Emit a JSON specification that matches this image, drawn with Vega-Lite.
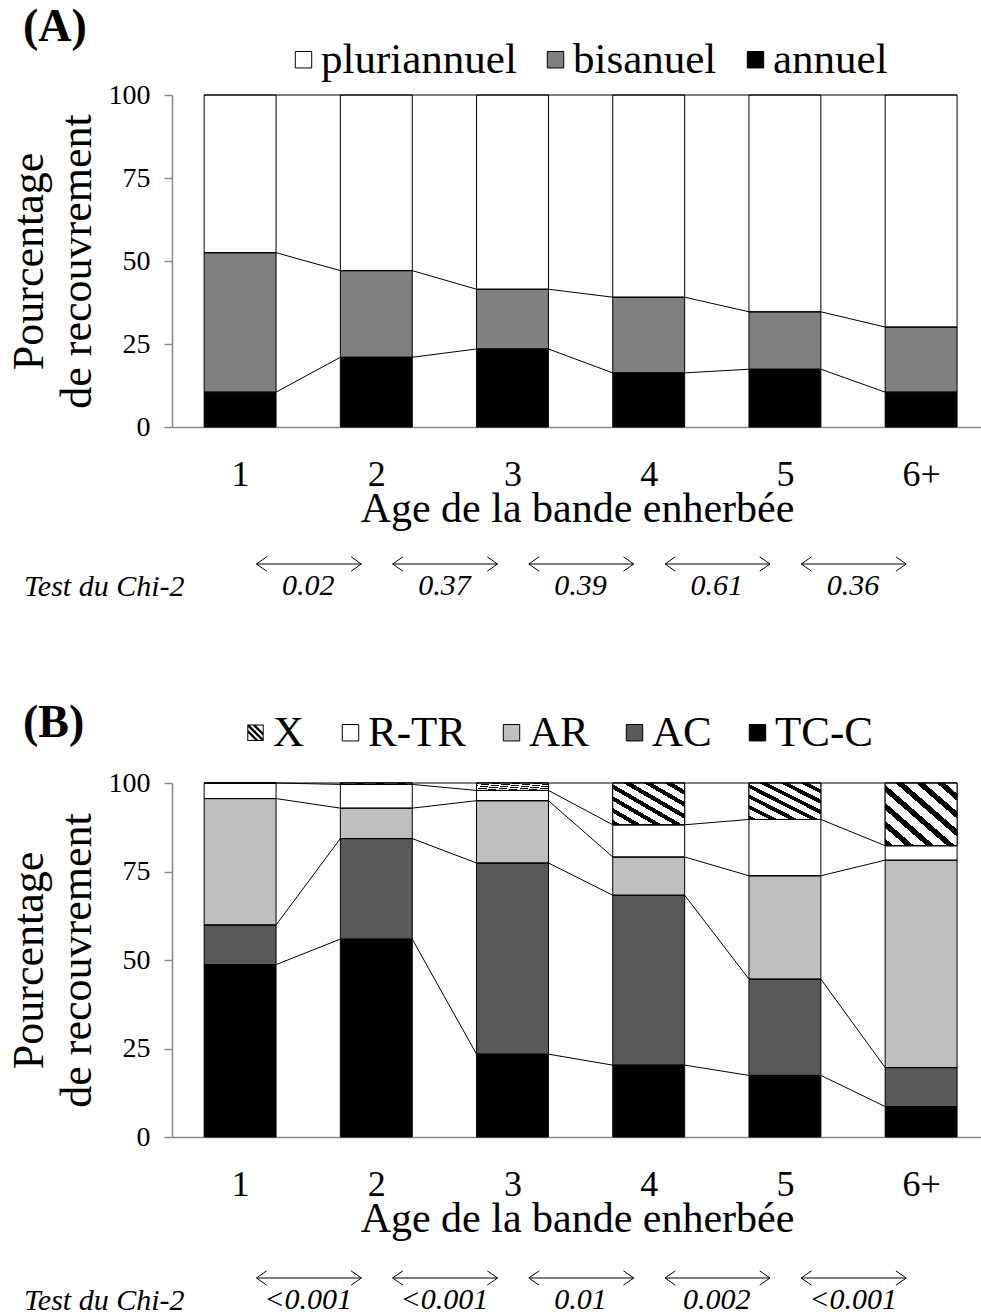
{
  "$schema": "https://vega.github.io/schema/vega-lite/v6.json",
  "padding": {"left": 7, "top": 4, "right": 0, "bottom": 0},
  "background": "white",
  "config": {
    "font": "Liberation Serif",
    "view": {"stroke": null},
    "axis": {"labelColor": "black", "titleColor": "black", "titleFontWeight": "normal", "grid": false, "labelFont": "Liberation Serif", "titleFont": "Liberation Serif"},
    "legend": {"labelFont": "Liberation Serif", "labelColor": "black", "labelLimit": 0},
    "title": {"font": "Liberation Serif", "color": "black"}
  },
  "resolve": {"scale": {"fill": "independent"}, "legend": {"fill": "independent"}},
  "datasets": {
    "A": [
      {"age": 1, "cat": "annuel", "v": 10.5}, {"age": 1, "cat": "bisanuel", "v": 42.0}, {"age": 1, "cat": "pluriannuel", "v": 47.5},
      {"age": 2, "cat": "annuel", "v": 21.0}, {"age": 2, "cat": "bisanuel", "v": 26.1}, {"age": 2, "cat": "pluriannuel", "v": 52.9},
      {"age": 3, "cat": "annuel", "v": 23.5}, {"age": 3, "cat": "bisanuel", "v": 18.0}, {"age": 3, "cat": "pluriannuel", "v": 58.5},
      {"age": 4, "cat": "annuel", "v": 16.3}, {"age": 4, "cat": "bisanuel", "v": 22.8}, {"age": 4, "cat": "pluriannuel", "v": 60.9},
      {"age": 5, "cat": "annuel", "v": 17.4}, {"age": 5, "cat": "bisanuel", "v": 17.3}, {"age": 5, "cat": "pluriannuel", "v": 65.3},
      {"age": 6, "cat": "annuel", "v": 10.5}, {"age": 6, "cat": "bisanuel", "v": 19.6}, {"age": 6, "cat": "pluriannuel", "v": 69.9}
    ],
    "B": [
      {"age": 1, "cat": "TC-C", "v": 48.7}, {"age": 1, "cat": "AC", "v": 11.2}, {"age": 1, "cat": "AR", "v": 35.7}, {"age": 1, "cat": "R-TR", "v": 4.4}, {"age": 1, "cat": "X", "v": 0.0},
      {"age": 2, "cat": "TC-C", "v": 55.9}, {"age": 2, "cat": "AC", "v": 28.4}, {"age": 2, "cat": "AR", "v": 8.6}, {"age": 2, "cat": "R-TR", "v": 6.7}, {"age": 2, "cat": "X", "v": 0.4},
      {"age": 3, "cat": "TC-C", "v": 23.4}, {"age": 3, "cat": "AC", "v": 54.0}, {"age": 3, "cat": "AR", "v": 17.6}, {"age": 3, "cat": "R-TR", "v": 2.9}, {"age": 3, "cat": "X", "v": 2.1},
      {"age": 4, "cat": "TC-C", "v": 20.3}, {"age": 4, "cat": "AC", "v": 48.0}, {"age": 4, "cat": "AR", "v": 10.8}, {"age": 4, "cat": "R-TR", "v": 9.1}, {"age": 4, "cat": "X", "v": 11.8},
      {"age": 5, "cat": "TC-C", "v": 17.4}, {"age": 5, "cat": "AC", "v": 27.2}, {"age": 5, "cat": "AR", "v": 29.2}, {"age": 5, "cat": "R-TR", "v": 15.9}, {"age": 5, "cat": "X", "v": 10.3},
      {"age": 6, "cat": "TC-C", "v": 8.6}, {"age": 6, "cat": "AC", "v": 11.0}, {"age": 6, "cat": "AR", "v": 58.6}, {"age": 6, "cat": "R-TR", "v": 4.1}, {"age": 6, "cat": "X", "v": 17.7}
    ],
    "chiA": [
      {"from": 1, "to": 2, "p": "0.02"}, {"from": 2, "to": 3, "p": "0.37"}, {"from": 3, "to": 4, "p": "0.39"}, {"from": 4, "to": 5, "p": "0.61"}, {"from": 5, "to": 6, "p": "0.36"}
    ],
    "chiB": [
      {"from": 1, "to": 2, "p": "<0.001"}, {"from": 2, "to": 3, "p": "<0.001"}, {"from": 3, "to": 4, "p": "0.01"}, {"from": 4, "to": 5, "p": "0.002"}, {"from": 5, "to": 6, "p": "<0.001"}
    ]
  },
  "spacing": 99,
  "vconcat": [
    {
      "spacing": 20,
      "vconcat": [
        {
          "width": 810,
          "height": 332,
          "data": {"name": "A"},
          "title": {"text": "(A)", "anchor": "start", "frame": "group", "fontSize": 46, "fontWeight": "bold", "dx": -149, "offset": 30},
          "transform": [
            {"calculate": "indexof(['annuel','bisanuel','pluriannuel'], datum.cat)", "as": "ord"},
            {"stack": "v", "groupby": ["age"], "sort": [{"field": "ord", "order": "ascending"}], "as": ["y0", "y1"]},
            {"calculate": "datum.age - 0.264", "as": "xl"},
            {"calculate": "datum.age + 0.264", "as": "xr"}
          ],
          "layer": [
            {
              "mark": {"type": "bar", "stroke": "black", "strokeWidth": 1},
              "encoding": {
                "x": {"field": "xl", "type": "quantitative", "scale": {"domain": [0.5, 6.447], "nice": false, "zero": false},
                  "axis": {"values": [1, 2, 3, 4, 5, 6], "format": "d", "labelExpr": "datum.value == 6 ? '6+' : datum.label", "ticks": false, "domainColor": "#898989", "domainWidth": 1.5, "labelFontSize": 36, "labelPadding": 30, "labelFlush": false, "title": "Age de la bande enherbée", "titleFontSize": 42, "titlePadding": -4}},
                "x2": {"field": "xr"},
                "y": {"field": "y0", "type": "quantitative", "scale": {"domain": [0, 100], "nice": false},
                  "axis": {"values": [0, 25, 50, 75, 100], "tickColor": "#898989", "tickSize": 8, "tickWidth": 1.5, "domainColor": "#898989", "domainWidth": 1.5, "labelFontSize": 28, "labelPadding": 14, "title": ["Pourcentage", "de recouvrement"], "titleFontSize": 44, "titleLineHeight": 48, "titlePadding": 9}},
                "y2": {"field": "y1"},
                "fill": {"field": "cat", "type": "nominal",
                  "scale": {"domain": ["pluriannuel", "bisanuel", "annuel"], "range": ["white", "#808080", "black"]},
                  "legend": {"orient": "none", "legendX": 110, "legendY": -57, "direction": "horizontal", "title": null, "symbolType": "square", "symbolSize": 270, "symbolStrokeColor": "black", "symbolStrokeWidth": 1, "labelFontSize": 43, "labelOffset": -4, "columnPadding": 17}}
              }
            },
            {
              "transform": [{"fold": ["xl", "xr"], "as": ["side", "xp"]}],
              "mark": {"type": "line", "stroke": "black", "strokeWidth": 1},
              "encoding": {
                "x": {"field": "xp", "type": "quantitative", "title": "Age de la bande enherbée"},
                "y": {"field": "y1", "type": "quantitative", "title": ["Pourcentage", "de recouvrement"]},
                "detail": {"field": "cat"},
                "order": {"field": "xp"}
              }
            }
          ]
        },
        {
          "width": 810,
          "height": 22,
          "data": {"name": "chiA"},
          "transform": [
            {"calculate": "datum.from + 0.12", "as": "a"},
            {"calculate": "datum.to - 0.11", "as": "b"},
            {"calculate": "(datum.from + datum.to) / 2", "as": "m"}
          ],
          "layer": [
            {
              "mark": {"type": "rule", "stroke": "black", "strokeWidth": 1},
              "encoding": {
                "x": {"field": "a", "type": "quantitative", "scale": {"domain": [0.5, 6.447], "nice": false, "zero": false}, "axis": null},
                "x2": {"field": "b"},
                "y": {"datum": "arrow", "type": "ordinal", "scale": {"type": "point", "domain": ["arrow", "p"], "padding": 0},
                  "axis": {"domain": false, "ticks": false, "title": null, "labelExpr": "datum.value == 'p' ? 'Test du Chi-2' : ''", "labelFontSize": 30, "labelFontStyle": "italic", "labelPadding": -12}}
              }
            },
            {
              "mark": {"type": "point", "shape": "M 1 -0.7 L 0 0 L 1 0.7", "size": 420, "filled": false, "stroke": "black", "strokeWidth": 1, "opacity": 1},
              "encoding": {"x": {"field": "a", "type": "quantitative"}, "y": {"datum": "arrow", "type": "ordinal"}}
            },
            {
              "mark": {"type": "point", "shape": "M -1 -0.7 L 0 0 L -1 0.7", "size": 420, "filled": false, "stroke": "black", "strokeWidth": 1, "opacity": 1},
              "encoding": {"x": {"field": "b", "type": "quantitative"}, "y": {"datum": "arrow", "type": "ordinal"}}
            },
            {
              "mark": {"type": "text", "fontSize": 30, "fontStyle": "italic", "baseline": "middle", "color": "black"},
              "encoding": {"x": {"field": "m", "type": "quantitative"}, "y": {"datum": "p", "type": "ordinal"}, "text": {"field": "p"}}
            }
          ]
        }
      ]
    },
    {
      "spacing": 24,
      "vconcat": [
        {
          "width": 810,
          "height": 354,
          "data": {"name": "B"},
          "title": {"text": "(B)", "anchor": "start", "frame": "group", "fontSize": 46, "fontWeight": "bold", "dx": -149, "offset": 22},
          "transform": [
            {"calculate": "indexof(['TC-C','AC','AR','R-TR','X'], datum.cat)", "as": "ord"},
            {"stack": "v", "groupby": ["age"], "sort": [{"field": "ord", "order": "ascending"}], "as": ["y0", "y1"]},
            {"calculate": "datum.age - 0.264", "as": "xl"},
            {"calculate": "datum.age + 0.264", "as": "xr"}
          ],
          "layer": [
            {
              "mark": {"type": "bar", "stroke": "black", "strokeWidth": 1},
              "encoding": {
                "x": {"field": "xl", "type": "quantitative", "scale": {"domain": [0.5, 6.447], "nice": false, "zero": false},
                  "axis": {"values": [1, 2, 3, 4, 5, 6], "format": "d", "labelExpr": "datum.value == 6 ? '6+' : datum.label", "ticks": false, "domainColor": "#898989", "domainWidth": 1.5, "labelFontSize": 36, "labelPadding": 30, "labelFlush": false, "title": "Age de la bande enherbée", "titleFontSize": 42, "titlePadding": -4}},
                "x2": {"field": "xr"},
                "y": {"field": "y0", "type": "quantitative", "scale": {"domain": [0, 100], "nice": false},
                  "axis": {"values": [0, 25, 50, 75, 100], "tickColor": "#898989", "tickSize": 8, "tickWidth": 1.5, "domainColor": "#898989", "domainWidth": 1.5, "labelFontSize": 28, "labelPadding": 14, "title": ["Pourcentage", "de recouvrement"], "titleFontSize": 44, "titleLineHeight": 48, "titlePadding": 9}},
                "y2": {"field": "y1"},
                "fill": {
                  "field": "cat", "type": "nominal",
                  "scale": {"domain": ["X", "R-TR", "AR", "AC", "TC-C"], "range": ["black", "white", "#bfbfbf", "#595959", "black"]},
                  "legend": {"orient": "none", "legendX": 62, "legendY": -72, "direction": "horizontal", "title": null, "symbolType": "square", "symbolSize": 270, "symbolStrokeColor": "black", "symbolStrokeWidth": 1, "labelFontSize": 43, "labelOffset": -4, "columnPadding": 24,
                    "encode": {"symbols": {"update": {
                      "shape": [
                        {"test": "datum.value === 'X'", "value": "M -1 -1 L 1 -1 L 1 1 L -1 1 Z M -0.88 -0.88 L -0.88 0.88 L 0.88 0.88 L 0.88 -0.88 Z M -0.68 -0.88 L 0.88 0.68 L 0.88 0.88 L 0.68 0.88 L -0.88 -0.68 L -0.88 -0.88 Z M -0.88 -0.33 L 0.33 0.88 L -0.07 0.88 L -0.88 0.07 Z M -0.33 -0.88 L 0.07 -0.88 L 0.88 -0.07 L 0.88 0.33 Z"},
                        {"value": "square"}
                      ],
                      "stroke": [
                        {"test": "datum.value === 'X'", "value": "transparent"},
                        {"value": "black"}
                      ],
                      "strokeWidth": {"value": 1}
                    }}}}
                }
              }
            },
            {
              "transform": [{"filter": "datum.cat === 'X'"}],
              "mark": {"type": "bar", "stroke": "black", "strokeWidth": 1,
                "fill": {"gradient": "linear", "x1": 0, "y1": 1, "x2": 1, "y2": 0, "stops": [
                        {"offset": 0, "color": "black"}, {"offset": 0.057, "color": "black"}, {"offset": 0.057, "color": "white"}, {"offset": 0.143, "color": "white"},
                        {"offset": 0.143, "color": "black"}, {"offset": 0.2, "color": "black"}, {"offset": 0.2, "color": "white"}, {"offset": 0.286, "color": "white"},
                        {"offset": 0.286, "color": "black"}, {"offset": 0.343, "color": "black"}, {"offset": 0.343, "color": "white"}, {"offset": 0.429, "color": "white"},
                        {"offset": 0.429, "color": "black"}, {"offset": 0.486, "color": "black"}, {"offset": 0.486, "color": "white"}, {"offset": 0.571, "color": "white"},
                        {"offset": 0.571, "color": "black"}, {"offset": 0.629, "color": "black"}, {"offset": 0.629, "color": "white"}, {"offset": 0.714, "color": "white"},
                        {"offset": 0.714, "color": "black"}, {"offset": 0.771, "color": "black"}, {"offset": 0.771, "color": "white"}, {"offset": 0.857, "color": "white"},
                        {"offset": 0.857, "color": "black"}, {"offset": 0.914, "color": "black"}, {"offset": 0.914, "color": "white"}, {"offset": 1, "color": "white"}
                      ]}},
              "encoding": {
                "x": {"field": "xl", "type": "quantitative"},
                "x2": {"field": "xr"},
                "y": {"field": "y0", "type": "quantitative"},
                "y2": {"field": "y1"}
              }
            },
            {
              "transform": [{"fold": ["xl", "xr"], "as": ["side", "xp"]}],
              "mark": {"type": "line", "stroke": "black", "strokeWidth": 1},
              "encoding": {
                "x": {"field": "xp", "type": "quantitative", "title": "Age de la bande enherbée"},
                "y": {"field": "y1", "type": "quantitative", "title": ["Pourcentage", "de recouvrement"]},
                "detail": {"field": "cat"},
                "order": {"field": "xp"}
              }
            }
          ]
        },
        {
          "width": 810,
          "height": 22,
          "data": {"name": "chiB"},
          "transform": [
            {"calculate": "datum.from + 0.12", "as": "a"},
            {"calculate": "datum.to - 0.11", "as": "b"},
            {"calculate": "(datum.from + datum.to) / 2", "as": "m"}
          ],
          "layer": [
            {
              "mark": {"type": "rule", "stroke": "black", "strokeWidth": 1},
              "encoding": {
                "x": {"field": "a", "type": "quantitative", "scale": {"domain": [0.5, 6.447], "nice": false, "zero": false}, "axis": null},
                "x2": {"field": "b"},
                "y": {"datum": "arrow", "type": "ordinal", "scale": {"type": "point", "domain": ["arrow", "p"], "padding": 0},
                  "axis": {"domain": false, "ticks": false, "title": null, "labelExpr": "datum.value == 'p' ? 'Test du Chi-2' : ''", "labelFontSize": 30, "labelFontStyle": "italic", "labelPadding": -12}}
              }
            },
            {
              "mark": {"type": "point", "shape": "M 1 -0.7 L 0 0 L 1 0.7", "size": 420, "filled": false, "stroke": "black", "strokeWidth": 1, "opacity": 1},
              "encoding": {"x": {"field": "a", "type": "quantitative"}, "y": {"datum": "arrow", "type": "ordinal"}}
            },
            {
              "mark": {"type": "point", "shape": "M -1 -0.7 L 0 0 L -1 0.7", "size": 420, "filled": false, "stroke": "black", "strokeWidth": 1, "opacity": 1},
              "encoding": {"x": {"field": "b", "type": "quantitative"}, "y": {"datum": "arrow", "type": "ordinal"}}
            },
            {
              "mark": {"type": "text", "fontSize": 30, "fontStyle": "italic", "baseline": "middle", "color": "black"},
              "encoding": {"x": {"field": "m", "type": "quantitative"}, "y": {"datum": "p", "type": "ordinal"}, "text": {"field": "p"}}
            }
          ]
        }
      ]
    }
  ]
}
